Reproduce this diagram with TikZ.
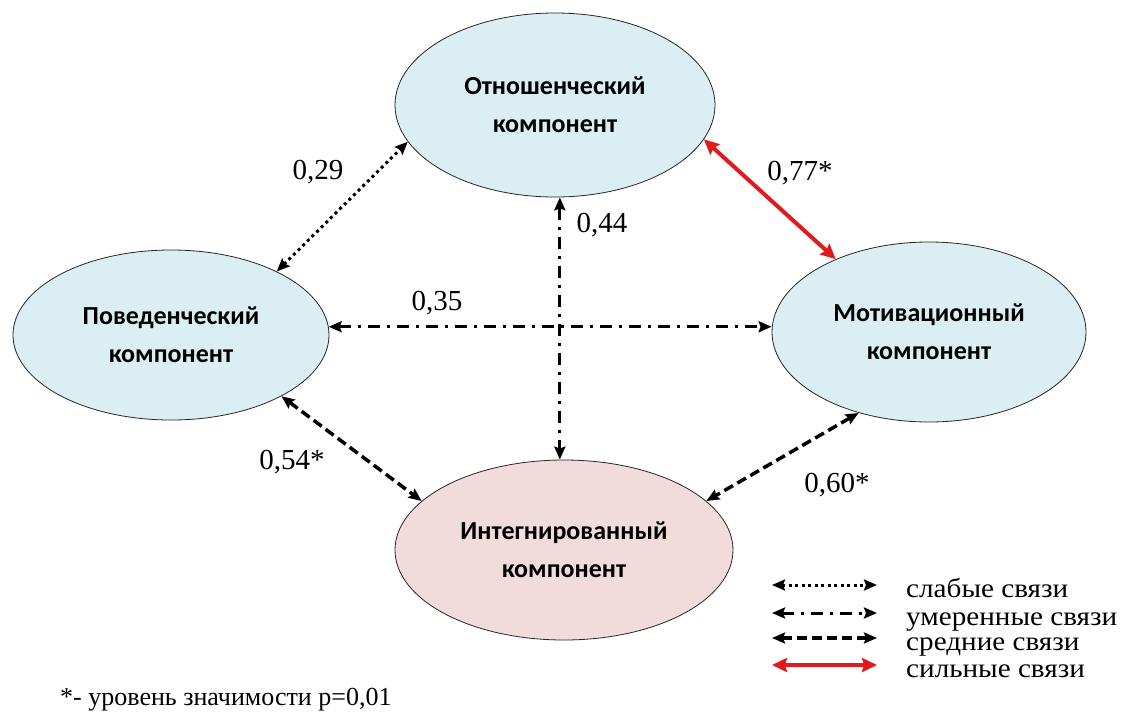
\documentclass[tikz,border=0pt]{standalone}
\usepackage{fontspec}
\setmainfont{Liberation Serif}
\newfontfamily\boxfont{Carlito}
\usetikzlibrary{shapes.geometric,arrows.meta}
\definecolor{lblue}{HTML}{DAEEF3}
\definecolor{lpink}{HTML}{F2DCDB}
\definecolor{sred}{HTML}{E31A1C}
\tikzset{
  comp/.style={ellipse,draw=black!85,line width=0.8pt,inner sep=0pt,align=center,
    font=\boxfont\bfseries\fontsize{26}{38}\selectfont},
  tip/.style={{Stealth[length=13pt,width=11pt,inset=2pt]}-{Stealth[length=13pt,width=11pt,inset=2pt]}},
  weak/.style={tip,line width=3pt,dash pattern=on 3pt off 3.5pt},
  moder/.style={tip,line width=3pt,dash pattern=on 12pt off 7pt on 3pt off 7pt},
  medium/.style={tip,line width=3.5pt,dash pattern=on 10pt off 5pt},
  strong/.style={{Stealth[length=15pt,width=14pt,inset=2pt]}-{Stealth[length=15pt,width=14pt,inset=2pt]},line width=4pt,draw=sred,color=sred},
  lbl/.style={font=\fontsize{29}{32}\selectfont,inner sep=0pt},
  leg/.style={font=\fontsize{27}{30}\selectfont,inner sep=0pt,anchor=base west,xscale=1.08,transform shape},
}
\begin{document}
\begin{tikzpicture}[x=1pt,y=-1pt]
\useasboundingbox (0,0) rectangle (1128,716);
\node[comp,fill=lblue,minimum width=320pt,minimum height=184pt] (top) at (555,105) {Отношенческий\\компонент};
\node[comp,fill=lblue,minimum width=316pt,minimum height=170pt] (left) at (171,335) {Поведенческий\\компонент};
\node[comp,fill=lblue,minimum width=314pt,minimum height=180pt] (right) at (929,332) {Мотивационный\\компонент};
\node[comp,fill=lpink,minimum width=338pt,minimum height=180pt] (bot) at (564,550) {Интегнированный\\компонент};

\draw[weak] (left.31.5) -- (top.194);
\draw[strong] (top.-13.4) -- (right.142);
\draw[moder] (top.-87.5) -- (top.-87.5 |- bot.north);
\draw[moder] (left.3) -- (left.3 -| right.west);
\draw[medium] (left.-29.4) -- (bot.161);
\draw[medium] (right.-131) -- (bot.19);

\node[lbl] (l29) at (318,172) {0,29};
\node[lbl] (l77) at (800,173) {0,77*};
\node[lbl] (l44) at (602,225) {0,44};
\node[lbl] (l35) at (437,303) {0,35};
\node[lbl] (l54) at (292,462) {0,54*};
\node[lbl] (l60) at (837,485) {0,60*};

\coordinate (a1) at (772,585); \coordinate (b1) at (877,585);
\coordinate (a2) at (772,613); \coordinate (b2) at (877,613);
\coordinate (a3) at (772,638); \coordinate (b3) at (877,638);
\coordinate (a4) at (772,665); \coordinate (b4) at (877,665);
\draw[weak] (a1) -- (b1);
\draw[moder] (a2) -- (b2);
\draw[medium] (a3) -- (b3);
\draw[strong] (a4) -- (b4);
\node[leg] (t1) at (906,597) {слабые связи};
\node[leg] (t2) at (906,625) {умеренные связи};
\node[leg] (t3) at (906,650) {средние связи};
\node[leg] (t4) at (906,677) {сильные связи};
\node[lbl,font=\fontsize{26}{30}\selectfont,anchor=west] (foot) at (60,700) {*- уровень значимости р=0,01};
\end{tikzpicture}
\end{document}
